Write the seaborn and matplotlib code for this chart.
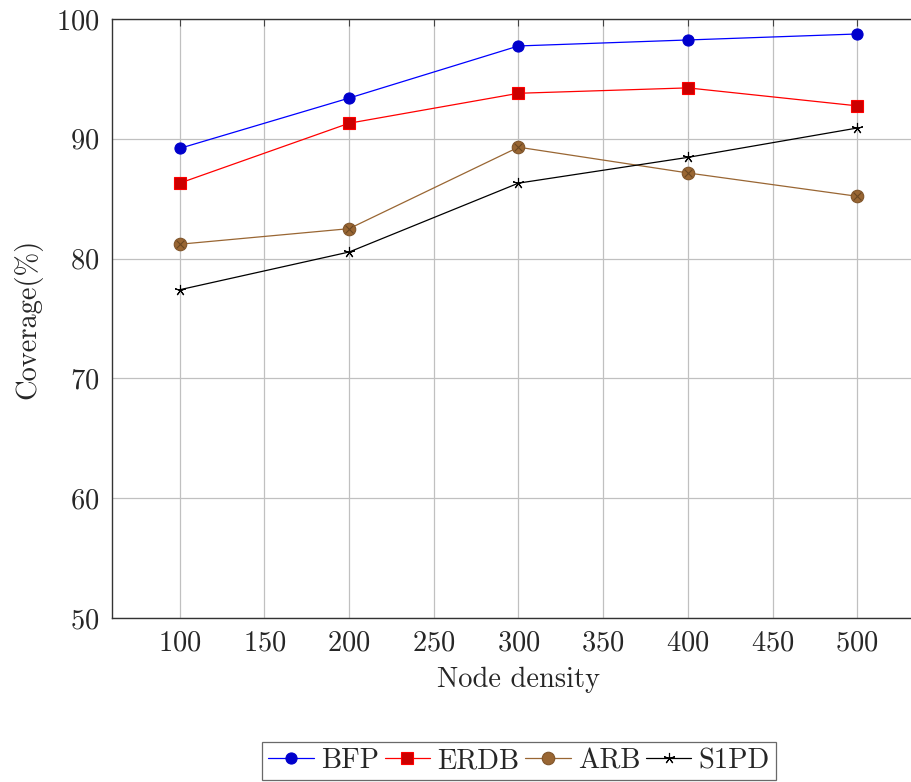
import numpy as np
import pandas as pd
import matplotlib
matplotlib.use("Agg")
import matplotlib.pyplot as plt
import seaborn as sns

# values
density = [100, 200, 300, 400, 500]
bfp = [89.2, 93.4, 97.75, 98.25, 98.75]
erdb = [86.3, 91.3, 93.8, 94.25, 92.75]
arb = [81.2, 82.5, 89.3, 87.15, 85.2]
s1pd = [77.4, 80.55, 86.3, 88.45, 90.9]

df = pd.DataFrame({
    "density": density * 4,
    "coverage": bfp + erdb + arb + s1pd,
    "method": ["BFP"] * 5 + ["ERDB"] * 5 + ["ARB"] * 5 + ["S1PD"] * 5,
})

sns.set_style("white")
plt.rcParams["font.family"] = ["cmr10", "DejaVu Sans"]
plt.rcParams["mathtext.fontset"] = "cm"
plt.rcParams["axes.formatter.use_mathtext"] = True

FS = 20.5

fig = plt.figure(figsize=(9.12, 7.82), dpi=100)
ax = fig.add_axes([112 / 912, 1 - 618 / 782, (925 - 112) / 912, (618 - 19) / 782])

styles = {
    "BFP": dict(color="#0000ff", marker="o", mfc="#0000cc", mec="#0000cc", ms=8),
    "ERDB": dict(color="#ff0000", marker="s", mfc="#cc0000", mec="#ff0000", ms=8),
    "ARB": dict(color="#996633", marker="o", mfc="#996633", mec="#80552b", ms=9),
    "S1PD": dict(color="black", marker=(5, 2, 0), mfc="black", mec="black", ms=8),
}

for name in ["BFP", "ERDB", "ARB", "S1PD"]:
    st = styles[name]
    sub = df[df["method"] == name]
    sns.lineplot(data=sub, x="density", y="coverage", ax=ax, label=name,
                 color=st["color"], marker=st["marker"], markersize=st["ms"],
                 markerfacecolor=st["mfc"], markeredgecolor=st["mec"],
                 markeredgewidth=0.8, linewidth=0.9, zorder=3)

# the crossed circle of ARB
sub = df[df["method"] == "ARB"]
ax.scatter(sub["density"], sub["coverage"], marker="x", s=30, color="#6b4722",
           linewidths=0.8, zorder=4)

ax.set_xlim(60, 540)
ax.set_ylim(50, 100)
ax.set_xticks(range(100, 501, 50))
ax.set_yticks(range(50, 101, 10))
ax.grid(True, color="#c0c0c0", linewidth=0.9)
ax.set_axisbelow(True)
ax.tick_params(direction="in", top=True, right=True, length=5, width=0.8,
               color="#444444", labelsize=FS, pad=9)
for sp in ax.spines.values():
    sp.set_color("#333333")
    sp.set_linewidth(1.0)

ax.set_xlabel("Node density", fontsize=FS, labelpad=7)
ax.set_ylabel("Coverage(%)", fontsize=FS, labelpad=10)

leg = ax.legend(loc="lower center", bbox_to_anchor=(519 / 912, 2 / 782),
                bbox_transform=fig.transFigure, ncol=4, fontsize=FS,
                frameon=True, fancybox=False, handlelength=1.6,
                handletextpad=0.25, columnspacing=0.2, borderpad=0.2,
                borderaxespad=0)
leg.get_frame().set_edgecolor("#444444")
leg.get_frame().set_linewidth(0.9)

fig.savefig("out.png", dpi=100)
